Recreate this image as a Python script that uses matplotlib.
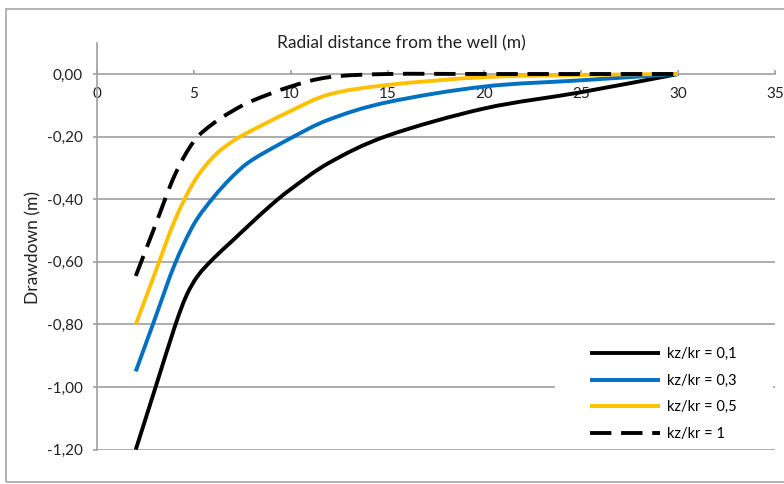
import matplotlib.pyplot as plt
from matplotlib.lines import Line2D
from matplotlib.patches import PathPatch, Rectangle
from matplotlib.path import Path
from matplotlib.ticker import FuncFormatter

plt.rcParams['font.family'] = ['Lato', 'DejaVu Sans']

# drawdown curves: radial distance r (m) and drawdown s (m) for each anisotropy ratio
r_01 = [2, 3, 4, 4.6, 5.2, 6, 7, 8, 9, 10, 12, 15, 20, 25, 30]
s_01 = [-1.20, -1.005, -0.81, -0.71, -0.645, -0.59, -0.532, -0.474, -0.418, -0.368, -0.283, -0.197,
        -0.11, -0.058, 0.0]

r_03 = [2, 3, 4, 5, 6, 7, 8, 10, 12, 15, 20, 25, 30]
s_03 = [-0.95, -0.78, -0.61, -0.48, -0.395, -0.327, -0.275, -0.205, -0.145, -0.09, -0.04, -0.02, 0.0]

r_05 = [2, 3, 4, 5, 6, 7, 8, 10, 12, 15, 20, 25, 30]
s_05 = [-0.80, -0.635, -0.47, -0.345, -0.265, -0.215, -0.18, -0.118, -0.065, -0.035, -0.01, -0.003, 0.0]

r_1 = [2, 3, 4, 5, 6, 7, 8, 10, 12, 15, 20, 25, 30]
s_1 = [-0.645, -0.485, -0.325, -0.215, -0.158, -0.118, -0.086, -0.04, -0.01, 0.0, 0.0, 0.0, 0.0]

labels = ['kz/kr = 0,1', 'kz/kr = 0,3', 'kz/kr = 0,5', 'kz/kr = 1']


def smooth_path(xs, ys):
    # smoothed line through the points (cubic Bezier segments, spreadsheet style)
    n = len(xs)
    verts = [(xs[0], ys[0])]
    codes = [Path.MOVETO]
    for i in range(n - 1):
        a = max(i - 1, 0)
        b = min(i + 2, n - 1)
        c1 = (xs[i] + (xs[i + 1] - xs[a]) / 6, ys[i] + (ys[i + 1] - ys[a]) / 6)
        c2 = (xs[i + 1] - (xs[b] - xs[i]) / 6, ys[i + 1] - (ys[b] - ys[i]) / 6)
        verts += [c1, c2, (xs[i + 1], ys[i + 1])]
        codes += [Path.CURVE4] * 3
    return Path(verts, codes)


fig = plt.figure(figsize=(7.84, 4.84), dpi=100)
ax = fig.add_axes([97 / 784, 1 - 449.7 / 484, 678 / 784, 407 / 484])

# outer chart border
fig.patches.append(Rectangle((6 / 784, 2 / 484), 1.0, 473 / 484, transform=fig.transFigure,
                             fill=False, edgecolor='#a6a6a6', lw=1.2))

lw = 2.8
dash = (0, (5.5, 2.5))
series = [
    (r_01, s_01, 'black', '-'),
    (r_03, s_03, '#0070C0', '-'),
    (r_05, s_05, '#FFC000', '-'),
    (r_1, s_1, 'black', dash),
]
handles = []
for (xs, ys, c, ls), lab in zip(series, labels):
    ax.add_patch(PathPatch(smooth_path(xs, ys), fill=False, edgecolor=c, lw=lw, ls=ls,
                           capstyle='butt', joinstyle='round', zorder=2))
    handles.append(Line2D([], [], color=c, lw=lw, ls=ls, solid_capstyle='butt', label=lab))

ax.set_xlim(0, 35)
ax.set_ylim(-1.2, 0.1)
ax.set_xticks(range(0, 36, 5))
ax.set_yticks([-1.2, -1.0, -0.8, -0.6, -0.4, -0.2, 0.0])
ax.yaxis.set_major_formatter(FuncFormatter(lambda v, p: f'{v:.2f}'.replace('.', ',')))

for y in [-1.2, -1.0, -0.8, -0.6, -0.4, -0.2]:
    ax.axhline(y, color='#a0a0a0', lw=1.2, zorder=0)

# white block behind the legend hides the gridline there
ax.add_patch(Rectangle((555 / 784, 1 - 445 / 484), 218 / 784, 110 / 484, transform=fig.transFigure,
                       facecolor='white', edgecolor='none', zorder=1))

ax.spines['top'].set_visible(False)
ax.spines['right'].set_visible(False)
ax.spines['bottom'].set_position(('data', 0))
ax.spines['bottom'].set_color('#a0a0a0')
ax.spines['left'].set_color('#a0a0a0')
ax.spines['bottom'].set_linewidth(1.2)
ax.spines['left'].set_linewidth(1.2)
ax.spines['bottom'].set_zorder(0)

ax.tick_params(axis='x', direction='in', length=3, color='#a0a0a0', width=1.2,
               labelsize=11, labelcolor='#222222', pad=9)
ax.tick_params(axis='y', direction='out', length=3, color='#a0a0a0', width=1.2,
               labelsize=11, labelcolor='#222222', pad=7.5)

fig.text(401 / 784, 1 - 43 / 484, 'Radial distance from the well (m)', ha='center', va='center',
         fontsize=12.5, color='#222222')
fig.text(33 / 784, 1 - 248 / 484, 'Drawdown (m)', ha='center', va='center', rotation=90,
         fontsize=12.5, color='#222222')

leg = ax.legend(handles=handles, loc='upper left', bbox_to_anchor=(580 / 784, 1 - 337 / 484),
                bbox_transform=fig.transFigure, frameon=False, fontsize=10.5,
                handlelength=4.8, handletextpad=0.48, labelspacing=0.86, borderpad=0.2)
leg.set_zorder(3)

fig.savefig('out.png', dpi=100)
